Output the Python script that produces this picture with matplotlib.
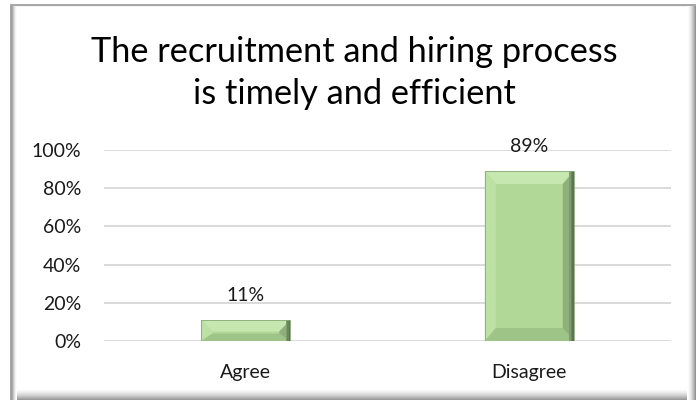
import matplotlib
matplotlib.use("Agg")
import matplotlib.pyplot as plt
from matplotlib.patches import Rectangle, Polygon
from matplotlib.ticker import FuncFormatter

plt.rcParams['font.family'] = ['Lato', 'DejaVu Sans']

categories = ["Agree", "Disagree"]
shares = [0.11, 0.89]
tick_values = [0.0, 0.2, 0.4, 0.6, 0.8, 1.0]
title_lines = ["The recruitment and hiring process", "is timely and efficient"]

W, H = 696, 403
fig = plt.figure(figsize=(W / 100, H / 100), dpi=100)
fig.patch.set_facecolor("white")
renderer = fig.canvas.get_renderer()

# ---- outer chart frame (pixel coordinates, y downwards) ----
frame_ax = fig.add_axes([0, 0, 1, 1])
frame_ax.set_xlim(0, W)
frame_ax.set_ylim(H, 0)
frame_ax.axis("off")

def shade(c):
    return (c, c, c)

# bottom band: white fading to grey
for i in range(12):
    g = 1.0 - 0.40 * (i / 11) ** 1.6
    frame_ax.add_patch(Rectangle((10, 388 + i), 686, 1, color=shade(g), lw=0))
# right band
for i in range(9):
    g = 1.0 - 0.42 * (i / 8) ** 1.6
    frame_ax.add_patch(Rectangle((687 + i, 5), 1, 395, color=shade(g), lw=0))
# left band: grey fading to white
for i, g in enumerate([0.66, 0.62, 0.68, 0.78, 0.88, 0.95, 0.985]):
    frame_ax.add_patch(Rectangle((10 + i, 5), 1, 395, color=shade(g), lw=0))
# top line
frame_ax.add_patch(Rectangle((10, 4), 686, 2, color=shade(0.66), lw=0))
frame_ax.add_patch(Rectangle((16, 6), 671, 1, color=shade(0.95), lw=0))

# ---- plot area ----
ax = fig.add_axes([104 / W, 1 - 341 / H, (671 - 104) / W, (341 - 150) / H])
ax.set_facecolor("none")
ax.set_xlim(-0.5, 1.5)
ax.set_ylim(0, 1)
ax.set_yticks(tick_values)
ax.yaxis.set_major_formatter(FuncFormatter(lambda v, _: f"{v * 100:.0f}%"))
ax.tick_params(axis="y", length=0, pad=16.5, labelsize=14, labelcolor="#1a1a1a")
ax.tick_params(axis="x", length=0, pad=26.5, labelsize=14, labelcolor="#1a1a1a")
ax.grid(axis="y", color="#d9d9d9", lw=1.4)
ax.set_axisbelow(True)
for s in ax.spines.values():
    s.set_visible(False)

xpos = list(range(len(categories)))
bar_w = 0.314
bars = ax.bar(xpos, shares, width=bar_w, color="#b2d898", edgecolor="none", zorder=2)
ax.set_xticks(xpos)
ax.set_xticklabels(categories)
for lab in ax.get_xticklabels():
    lab.set_va("baseline")

# bevel facets for each bar
px_x = 2.0 / (671 - 104)   # data units per pixel, x
px_y = 1.0 / (341 - 150)   # data units per pixel, y
bev_x, bev_y = 11, 13
for b in bars:
    bx, by = b.get_x(), b.get_y()
    bw, bh = b.get_width(), b.get_height()
    L, R, B, T = bx, bx + bw, by, by + bh
    dx = bev_x * px_x
    dy_top = min(bev_y * px_y, bh * 0.55)
    dy_bot = min(bev_y * px_y, bh * 0.35)
    facets = [
        ([(L, T), (R, T), (R - dx, T - dy_top), (L + dx, T - dy_top)], "#c6e7b0"),
        ([(L, B), (L, T), (L + dx, T - dy_top), (L + dx, B + dy_bot)], "#bde1a5"),
        ([(L, B), (R, B), (R - dx, B + dy_bot), (L + dx, B + dy_bot)], "#9fc487"),
        ([(R, B), (R, T), (R - dx, T - dy_top), (R - dx, B + dy_bot)], "#8fb07a"),
    ]
    for pts, col in facets:
        ax.add_patch(Polygon(pts, closed=True, facecolor=col, edgecolor="none", zorder=3))
    # darker rim along the right side
    for k, col in enumerate(["#5c7350", "#6d8860", "#7f9c70"]):
        ax.add_patch(Rectangle((R - (k + 1) * 1.5 * px_x, B), 1.5 * px_x, bh,
                               facecolor=col, edgecolor="none", zorder=3.5))
    ax.add_patch(Rectangle((L, B), bw, bh, fill=False, edgecolor="#8aa878", lw=0.6, zorder=4))

for x, v in zip(xpos, shares):
    ax.annotate(f"{v * 100:.0f}%", (x, v), xytext=(0, 13.5), textcoords="offset points",
                ha="center", va="baseline", fontsize=14, color="#1a1a1a")

# ---- title: two lines, sized so the first line spans the header width ----
title_cx = 354 / W
base_size = 24
t1 = fig.text(title_cx, 1 - 62.5 / H, title_lines[0], ha="center", va="baseline",
              fontsize=base_size, color="black")
w1 = t1.get_window_extent(renderer=renderer).width
size = base_size * 527 / w1
t1.set_fontsize(size)
fig.text(title_cx, 1 - 104.5 / H, title_lines[1], ha="center", va="baseline",
         fontsize=size, color="black")

fig.savefig("out.png", dpi=100)
